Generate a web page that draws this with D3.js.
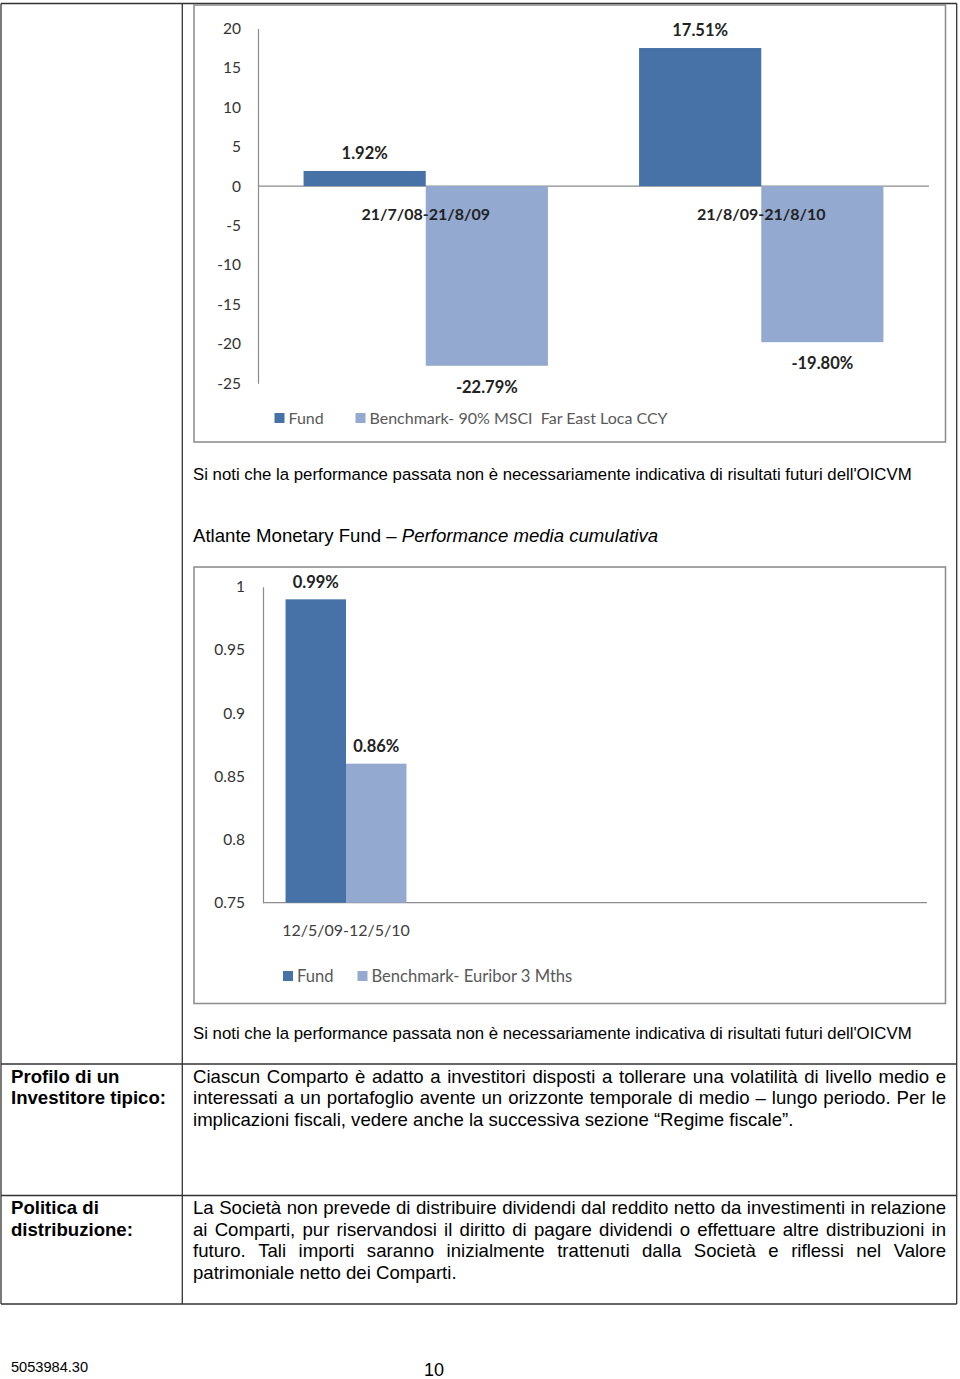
<!DOCTYPE html>
<html><head><meta charset="utf-8">
<script src="https://cdn.jsdelivr.net/npm/d3@7"></script>
<style>body{margin:0;background:#fff}svg{display:block}</style>
</head><body>
<script>
// ---------- DATA ----------
const chart1Categories = ["21/7/08-21/8/09", "21/8/09-21/8/10"];
const chart1Series = ["Fund", "Benchmark- 90% MSCI  Far East Loca CCY"];
const chart1Fund = [1.92, 17.51];
const chart1Bench = [-22.79, -19.80];
const chart1Ticks = [20, 15, 10, 5, 0, -5, -10, -15, -20, -25];

const chart2Categories = ["12/5/09-12/5/10", "", "", ""];
const chart2Series = ["Fund", "Benchmark- Euribor 3 Mths"];
const chart2Fund = [0.99, null, null, null];
const chart2Bench = [0.86, null, null, null];
const chart2Ticks = [1, 0.95, 0.9, 0.85, 0.8, 0.75];

const note = "Si noti che la performance passata non è necessariamente indicativa di risultati futuri dell'OICVM";
const titleRegular = "Atlante Monetary Fund – ";
const titleItalic = "Performance media cumulativa";
const row1Label = ["Profilo di un", "Investitore tipico:"];
const row1Text = [
  "Ciascun Comparto è adatto a investitori disposti a tollerare una volatilità di livello medio e",
  "interessati a un portafoglio avente un orizzonte temporale di medio – lungo periodo. Per le",
  "implicazioni fiscali, vedere anche la successiva sezione “Regime fiscale”."
];
const row2Label = ["Politica di", "distribuzione:"];
const row2Text = [
  "La Società non prevede di distribuire dividendi dal reddito netto da investimenti in relazione",
  "ai Comparti, pur riservandosi il diritto di pagare dividendi o effettuare altre distribuzioni in",
  "futuro. Tali importi saranno inizialmente trattenuti dalla Società e riflessi nel Valore",
  "patrimoniale netto dei Comparti."
];
const footerCode = "5053984.30";
const pageNumber = "10";

// ---------- STYLE ----------
const FUND = "#4672a8", BENCH = "#94a9d0";
const CF = "Lato, 'Open Sans', sans-serif";
const TF = "'Liberation Sans', Arial, sans-serif";

const svg = d3.select("body").append("svg").attr("width", 960).attr("height", 1379);

// ---------- TABLE ----------
const tl = svg.append("g").attr("stroke", "#333").attr("stroke-width", 1.3).attr("fill", "none");
[[1, 3.5, 1, 1304], [182.3, 3.5, 182.3, 1304], [956.7, 3.5, 956.7, 1304],
 [1, 3.5, 956.7, 3.5], [1, 1064, 956.7, 1064], [1, 1195.5, 956.7, 1195.5], [1, 1304, 956.7, 1304]]
  .forEach(d => tl.append("line").attr("x1", d[0]).attr("y1", d[1]).attr("x2", d[2]).attr("y2", d[3]));

// ---------- CHART ----------
function drawChart(cfg) {
  const g = svg.append("g");
  g.append("rect").attr("x", cfg.frame[0]).attr("y", cfg.frame[1])
    .attr("width", cfg.frame[2] - cfg.frame[0]).attr("height", cfg.frame[3] - cfg.frame[1])
    .attr("fill", "#fff").attr("stroke", "#8f8f8f").attr("stroke-width", 1.6);

  const y = d3.scaleLinear().domain(cfg.domain).range(cfg.yRange);
  const x0 = d3.scaleBand().domain(d3.range(cfg.categories.length)).range(cfg.xRange).padding(0);
  const x1 = d3.scaleBand().domain([0, 1]).range([0, x0.bandwidth()]).paddingInner(0).paddingOuter(0.373);
  const base = cfg.base;

  // baseline
  g.append("line").attr("x1", cfg.xRange[0]).attr("x2", cfg.xRange[1])
    .attr("y1", y(base)).attr("y2", y(base)).attr("stroke", "#8c8c8c").attr("stroke-width", 1.2);

  // y axis
  const ax = g.append("g").attr("transform", `translate(${cfg.xRange[0]},0)`)
    .call(d3.axisLeft(y).tickValues(cfg.ticks).tickSize(0).tickPadding(cfg.tickPad).tickFormat(d => String(d)));
  ax.select(".domain").attr("stroke", "#8c8c8c").attr("stroke-width", 1.2);
  ax.selectAll("text").attr("font-family", CF).attr("font-size", 15.5).attr("fill", "#333");

  // bars
  const vals = [cfg.fund, cfg.bench];
  const cols = [FUND, BENCH];
  const labels = g.append("g");
  cfg.categories.forEach((c, i) => {
    [0, 1].forEach(s => {
      const v = vals[s][i];
      if (v == null) return;
      const bx = x0(i) + x1(s), bw = x1.bandwidth();
      g.append("rect").attr("x", bx).attr("width", bw)
        .attr("y", Math.min(y(v), y(base))).attr("height", Math.abs(y(v) - y(base)))
        .attr("fill", cols[s]);
      const above = v >= base;
      labels.append("text").attr("x", bx + bw / 2)
        .attr("y", above ? y(v) - 17.5 + 5.8 : y(v) + 21 + 5.8)
        .attr("text-anchor", "middle").attr("font-family", CF).attr("font-weight", 700)
        .attr("font-size", 16.5).attr("fill", "#222").text(v.toFixed(2) + "%");
    });
  });
  // category labels
  cfg.categories.forEach((c, i) => {
    if (!c) return;
    g.append("text").attr("x", x0(i) + x0.bandwidth() / 2).attr("y", y(base) + 28 + 5.5)
      .attr("text-anchor", "middle").attr("font-family", CF)
      .attr("font-weight", cfg.catBold ? 700 : 400).attr("font-size", 16)
      .attr("fill", cfg.catBold ? "#222" : "#404040").text(c);
  });
  g.node().appendChild(labels.node());

  // legend
  cfg.series.forEach((s, k) => {
    const lx = cfg.legend[k];
    g.append("rect").attr("x", lx).attr("y", cfg.legendY - 5).attr("width", 10).attr("height", 10).attr("fill", cols[k]);
    g.append("text").attr("x", lx + 14).attr("y", cfg.legendY + 5.7).attr("font-family", CF)
      .attr("font-size", cfg.legendSize).attr("fill", "#595959").attr("xml:space", "preserve").text(s);
  });
}

drawChart({
  frame: [194, 5, 945.5, 442], domain: [-25, 20], yRange: [383.2, 28.4], xRange: [258, 929],
  categories: chart1Categories, series: chart1Series, fund: chart1Fund, bench: chart1Bench,
  ticks: chart1Ticks, tickPad: 17, base: 0, catBold: true, legend: [274.5, 355.5], legendY: 418, legendSize: 16
});
drawChart({
  frame: [194, 567, 945.5, 1003.5], domain: [0.75, 1], yRange: [902.7, 586.7], xRange: [263, 927],
  categories: chart2Categories, series: chart2Series, fund: chart2Fund, bench: chart2Bench,
  ticks: chart2Ticks, tickPad: 18, base: 0.75, catBold: false, legend: [283, 357.5], legendY: 976, legendSize: 16.6
});

// ---------- TEXT ----------
const FS = 18.6;
function txt(x, y, s, opts = {}) {
  return svg.append("text").attr("x", x).attr("y", y).attr("font-family", TF)
    .attr("font-size", opts.size || FS).attr("font-weight", opts.bold ? 700 : 400)
    .attr("fill", "#000").text(s);
}
function justify(x, y, s, width) {
  const words = s.split(" ");
  const widths = words.map(w => {
    const e = txt(0, -100, w); const l = e.node().getComputedTextLength(); e.remove(); return l;
  });
  const gap = (width - d3.sum(widths)) / (words.length - 1);
  const t = svg.append("text").attr("y", y).attr("font-family", TF).attr("font-size", FS).attr("fill", "#000");
  let cx = x;
  words.forEach((w, i) => { t.append("tspan").attr("x", cx).text(w); cx += widths[i] + gap; });
}
function paragraph(x, y0, lines, width, lh) {
  lines.forEach((l, i) => {
    if (i < lines.length - 1) justify(x, y0 + i * lh, l, width);
    else txt(x, y0 + i * lh, l);
  });
}

txt(193, 480, note, { size: 16.8 });
const tt = txt(193, 541.5, titleRegular, { size: 18.6 });
tt.append("tspan").attr("font-style", "italic").text(titleItalic);
txt(193, 1039, note, { size: 16.8 });

row1Label.forEach((l, i) => txt(11, 1082.5 + i * 21.7, l, { bold: true }));
paragraph(193, 1082.5, row1Text, 753, 21.7);
row2Label.forEach((l, i) => txt(11, 1214 + i * 21.7, l, { bold: true }));
paragraph(193, 1214, row2Text, 753, 21.7);

txt(11, 1372, footerCode, { size: 14.6 });
txt(424, 1375.5, pageNumber, { size: 18 });
</script>
</body></html>
